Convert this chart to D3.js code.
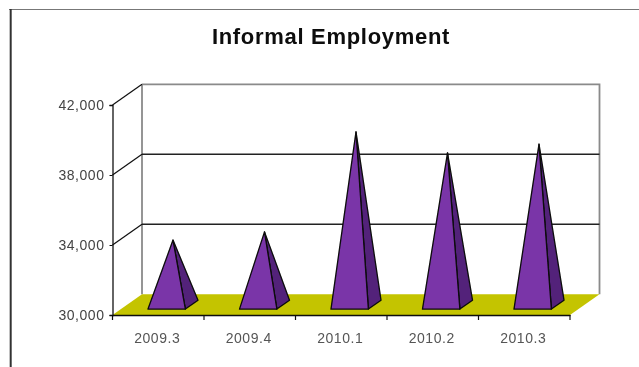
<!DOCTYPE html>
<html><head><meta charset="utf-8">
<script src="https://cdn.jsdelivr.net/npm/d3@7"></script>
<style>
html,body{margin:0;padding:0;background:#fff;overflow:hidden}
svg{display:block}
text{font-family:"Liberation Sans",Arial,sans-serif}
</style></head><body><div id="c"></div>
<script>
const categories = ["2009.3","2009.4","2010.1","2010.2","2010.3"];
const values = [33690,34160,39870,38670,39170];
const yTicks = [30000,34000,38000,42000];
const title = "Informal Employment";

const W=639,H=367;
const frontLeft=112.5, frontRight=570, floorY=315, topY=105;
const depthX=29.5, depthY=20.7;
const x=d3.scaleBand().domain(categories).range([frontLeft,frontRight]);
const y=d3.scaleLinear().domain([30000,42000]).range([floorY,topY]);
const svg=d3.select("#c").append("svg").attr("width",W).attr("height",H);
svg.append("defs").append("filter").attr("id","soft").append("feGaussianBlur").attr("stdDeviation",0.35);
const root=svg.append("g").attr("filter","url(#soft)");
const P=(px,py,d)=>[px+depthX*d,py-depthY*d];
const line=pts=>"M"+pts.map(p=>p.join(",")).join("L");

// outer frame
root.append("path").attr("d",`M9,9.5H${W}`).attr("fill","none").attr("stroke","#777").attr("stroke-width",1.2);
root.append("path").attr("d",`M10.7,9V${H}`).attr("fill","none").attr("stroke","#333").attr("stroke-width",2);

// title
root.append("text").attr("x",331).attr("y",44).attr("text-anchor","middle")
  .attr("font-size",22).attr("font-weight","bold").attr("letter-spacing",0.7).attr("fill","#0a0a0a").text(title);

// walls
const wall=root.append("g").attr("fill","none");
wall.append("path").attr("d",line([P(frontLeft,y(42000),1),P(frontRight,y(42000),1),P(frontRight,y(30000),1)])).attr("stroke","#8a8a8a").attr("stroke-width",1.8);
wall.append("path").attr("d",line([P(frontLeft,y(42000),1),P(frontLeft,y(30000),1)])).attr("stroke","#8a8a8a").attr("stroke-width",1.8);
yTicks.filter(v=>v>30000&&v<42000).forEach(v=>{
  wall.append("path").attr("d",line([P(frontLeft,y(v),1),P(frontRight,y(v),1)])).attr("stroke","#222").attr("stroke-width",1.5);
});
yTicks.filter(v=>v>30000).forEach(v=>{
  wall.append("path").attr("d",line([[frontLeft,y(v)],P(frontLeft,y(v),1)])).attr("stroke","#111").attr("stroke-width",1.2);
});

// floor
root.append("path").attr("d",line([[frontLeft,floorY],[frontRight,floorY],P(frontRight,floorY,1),P(frontLeft,floorY,1)])+"Z").attr("fill","#c4c400");

// pyramids
const dFront=0.286,dBack=0.714,half=18.7;
const g=root.selectAll("g.p").data(categories.map((c,i)=>({c,v:values[i]}))).join("g").attr("class","p")
  .attr("stroke","#0a0a0a").attr("stroke-width",1.3).attr("stroke-linejoin","round");
const cx=d=>x(d.c)+x.bandwidth()/2;
const apex=d=>[cx(d)+depthX*0.5,y(d.v)-depthY*0.5];
g.append("path").attr("fill","#52247a").attr("d",d=>{
  const a=apex(d);
  return line([a,P(cx(d)+half,floorY,dFront),P(cx(d)+half,floorY,dBack)])+"Z";
});
g.append("path").attr("fill","#7a35a8").attr("d",d=>{
  const a=apex(d);
  return line([a,P(cx(d)-half,floorY,dFront),P(cx(d)+half,floorY,dFront)])+"Z";
});

// axes
const ax=d3.axisBottom(x).tickSize(0).tickPadding(18);
const gx=root.append("g").attr("transform",`translate(0,${floorY})`).call(ax);
gx.select(".domain").attr("stroke","#111").attr("stroke-width",1.5);
gx.selectAll("text").attr("font-size",14).attr("letter-spacing",0.55).attr("fill","#555").attr("dx",-1);
gx.selectAll(".e").data(categories.concat("end")).join("line").attr("class","e")
  .attr("x1",(d,i)=>frontLeft+i*x.step()).attr("x2",(d,i)=>frontLeft+i*x.step())
  .attr("y1",0).attr("y2",5).attr("stroke","#111").attr("stroke-width",1.2);
const ay=d3.axisLeft(y).tickValues(yTicks).tickSize(3).tickPadding(5).tickFormat(d3.format(","));
const gy=root.append("g").attr("transform",`translate(${frontLeft},0)`).call(ay);
gy.select(".domain").attr("stroke","#111").attr("stroke-width",1.3);
gy.selectAll("line").attr("stroke","#111");
gy.selectAll("text").attr("font-size",14).attr("letter-spacing",0.55).attr("fill","#444");
</script></body></html>
